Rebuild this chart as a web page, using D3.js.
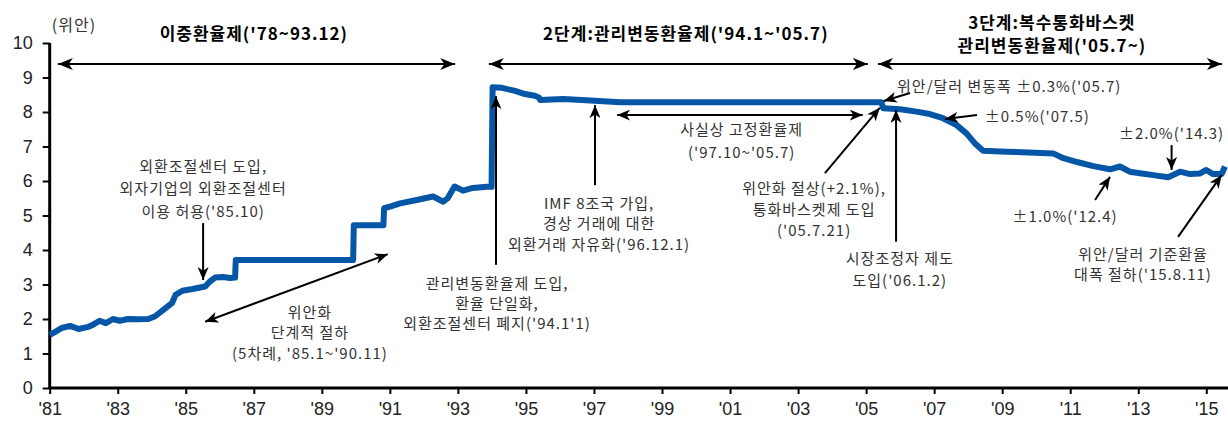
<!DOCTYPE html>
<html>
<head>
<meta charset="utf-8">
<script src="https://cdnjs.cloudflare.com/ajax/libs/d3/7.8.5/d3.min.js"></script>
<style>
  body { margin: 0; background: #fff; }
  svg { display: block; }
  .tick text { font-family: "Liberation Sans Narrow", "Arial Narrow", "Liberation Sans", Arial, sans-serif; font-size: 18px; fill: #222; }
  .note { font-family: "Noto Sans CJK KR", "Noto Sans", sans-serif; font-size: 15px; letter-spacing: 1px; fill: #333; }
  .head { font-family: "Noto Sans CJK KR", "Noto Sans", sans-serif; font-size: 17px; letter-spacing: 1px; font-weight: bold; fill: #000; }
</style>
</head>
<body>
<svg id="chart" width="1228" height="421"></svg>
<script>

// 위안/달러 환율 (연도, 위안)
var years = [
  1981.00, 1981.15, 1981.35, 1981.60, 1981.85, 1982.13, 1982.30, 1982.47, 1982.65, 1982.86,
  1983.06, 1983.30, 1983.60, 1983.90, 1984.10, 1984.33, 1984.60, 1984.70, 1984.90, 1985.20,
  1985.57, 1985.70, 1985.86, 1986.10, 1986.30, 1986.45, 1986.47, 1988.00, 1989.92, 1989.94,
  1990.81, 1990.83, 1991.05, 1991.30, 1991.79, 1992.27, 1992.57, 1992.70, 1992.90, 1993.15,
  1993.44, 1993.85, 1993.99, 1994.02, 1994.30, 1994.68, 1994.97, 1995.26, 1995.38, 1995.42,
  1996.10, 1996.90, 1997.77, 2000.00, 2003.00, 2005.45, 2005.50, 2006.00, 2006.48, 2006.87,
  2007.26, 2007.66, 2007.95, 2008.20, 2008.44, 2009.13, 2010.50, 2010.80, 2011.20, 2011.68,
  2012.17, 2012.46, 2012.75, 2013.10, 2013.44, 2013.88, 2014.23, 2014.52, 2014.82, 2015.00,
  2015.20, 2015.45, 2015.55
];
var rates = [
  1.54, 1.62, 1.74, 1.80, 1.71, 1.77, 1.85, 1.95, 1.88, 2.00,
  1.95, 2.00, 1.99, 2.00, 2.08, 2.26, 2.47, 2.70, 2.82, 2.87,
  2.94, 3.08, 3.20, 3.22, 3.19, 3.20, 3.71, 3.71, 3.71, 4.72,
  4.72, 5.21, 5.27, 5.35, 5.45, 5.55, 5.40, 5.50, 5.84, 5.72,
  5.80, 5.83, 5.83, 8.72, 8.70, 8.61, 8.52, 8.47, 8.42, 8.35,
  8.38, 8.33, 8.28, 8.28, 8.28, 8.28, 8.11, 8.08, 8.01, 7.94,
  7.82, 7.62, 7.38, 7.09, 6.88, 6.85, 6.80, 6.66, 6.55, 6.43,
  6.34, 6.42, 6.27, 6.22, 6.17, 6.11, 6.27, 6.20, 6.22, 6.32,
  6.20, 6.20, 6.42
];

var yTicks = d3.range(0, 11);
var xTicks = d3.range(1981, 2016, 2);
var unitLabel = "(위안)";

// 제도 구간 제목 (위치는 연도, 위안 단위)
var headers = [
  { lines: ["이중환율제('78~93.12)"], x: 1987.0, y: 10.29 },
  { lines: ["2단계:관리변동환율제('94.1~'05.7)"], x: 1999.7, y: 10.29 },
  { lines: ["3단계:복수통화바스켓", "관리변동환율제('05.7~)"], x: 2010.46, y: 10.61 }
];

var notes = [
  { lines: ["외환조절센터 도입,", "외자기업의 외환조절센터", "이용 허용('85.10)"], x: 1985.51, y: 6.46, gap: 22.5 },
  { lines: ["위안화", "단계적 절하", "(5차례, '85.1~'90.11)"], x: 1988.65, y: 2.23, gap: 20.5 },
  { lines: ["관리변동환율제 도입,", "환율 단일화,", "외환조절센터 폐지('94.1'1)"], x: 1994.15, y: 3.07, gap: 20 },
  { lines: ["IMF 8조국 가입,", "경상 거래에 대한", "외환거래 자유화('96.12.1)"], x: 1997.15, y: 5.39, gap: 20.5 },
  { lines: ["사실상 고정환율제", "('97.10~'05.7)"], x: 2001.34, y: 7.53, gap: 23 },
  { lines: ["위안/달러 변동폭 ±0.3%('05.7)"], x: 2005.91, y: 8.78, anchor: "start" },
  { lines: ["±0.5%('07.5)"], x: 2008.49, y: 7.91, anchor: "start" },
  { lines: ["±2.0%('14.3)"], x: 2013.98, y: 7.40 },
  { lines: ["±1.0%('12.4)"], x: 2010.85, y: 5.01 },
  { lines: ["위안화 절상(+2.1%),", "통화바스켓제 도입", "('05.7.21)"], x: 2003.47, y: 5.80, gap: 21 },
  { lines: ["시장조정자 제도", "도입('06.1.2)"], x: 2005.99, y: 3.77, gap: 22 },
  { lines: ["위안/달러 기준환율", "대폭 절하('15.8.11)"], x: 2013.14, y: 3.91, gap: 20 }
];

var arrows = [
  { from: [1981.24, 9.39], to: [1992.92, 9.39], both: true, big: true },
  { from: [1993.91, 9.39], to: [2005.05, 9.39], both: true, big: true },
  { from: [2005.35, 9.39], to: [2015.46, 9.39], both: true, big: true },
  { from: [1985.51, 4.78], to: [1985.51, 3.13] },
  { from: [1985.57, 1.92], to: [1990.94, 3.88], both: true },
  { from: [1994.12, 3.57], to: [1994.12, 8.46] },
  { from: [1997.03, 5.88], to: [1997.03, 8.20] },
  { from: [1997.68, 7.91], to: [2004.90, 7.91], both: true },
  { from: [2006.29, 8.55], to: [2005.52, 8.32] },
  { from: [2008.26, 7.91], to: [2007.32, 7.80] },
  { from: [2013.98, 7.04], to: [2013.98, 6.32] },
  { from: [2011.73, 5.45], to: [2012.17, 6.12] },
  { from: [2003.79, 6.23], to: [2005.40, 8.12] },
  { from: [2005.88, 4.24], to: [2005.88, 8.06] },
  { from: [2014.17, 4.38], to: [2015.45, 6.17] }
];

var svg = d3.select("#chart");

var x = d3.scaleLinear().domain([1981, 2015.55]).range([49.7, 1225]);
var y = d3.scaleLinear().domain([0, 10]).range([388, 43]);

// arrow heads
var defs = svg.append("defs");
function head(id, len, half) {
  defs.append("marker")
    .attr("id", id)
    .attr("viewBox", (-len) + " " + (-half) + " " + len + " " + (half * 2))
    .attr("refX", 0).attr("refY", 0)
    .attr("markerUnits", "userSpaceOnUse")
    .attr("markerWidth", len).attr("markerHeight", half * 2)
    .attr("orient", "auto-start-reverse")
    .append("path")
    .attr("d", "M0,0 L" + (-len) + "," + (-half) + " L" + (-len * 0.72) + ",0 L" + (-len) + "," + half + " Z")
    .attr("fill", "#000");
}
head("arrow", 13, 5.5);
head("bigArrow", 15, 6);

// axes
var yAxis = d3.axisLeft(y).tickValues(yTicks).tickSize(7).tickPadding(10).tickFormat(d3.format("d"));
var xAxis = d3.axisBottom(x).tickValues(xTicks).tickSize(6).tickPadding(6)
  .tickFormat(function(d){ return "'" + String(d).slice(2); });

var gy = svg.append("g").attr("transform", "translate(49.7,0)").call(yAxis);
var gx = svg.append("g").attr("transform", "translate(0,388)").call(xAxis);
[gy, gx].forEach(function(g){
  g.select(".domain").attr("stroke", "#000").attr("stroke-width", 3);
  g.selectAll(".tick line").attr("stroke", "#000").attr("stroke-width", 2);
});
gy.select(".domain").attr("d", "M0,43V388");
gx.select(".domain").attr("d", "M49.7,0H1228");
gx.selectAll(".tick text").attr("dy", "0.85em");

svg.append("text")
  .attr("class", "note")
  .attr("x", 74).attr("y", 24)
  .attr("text-anchor", "middle").attr("dominant-baseline", "central")
  .style("font-size", "16px")
  .text(unitLabel);

// 환율 라인
var line = d3.line()
  .x(function(d, i){ return x(years[i]); })
  .y(function(d){ return y(d); });

svg.append("path")
  .datum(rates)
  .attr("d", line)
  .attr("fill", "none")
  .attr("stroke", "#0656a8")
  .attr("stroke-width", 6)
  .attr("stroke-linejoin", "round");

// arrows
svg.selectAll(".arr")
  .data(arrows)
  .enter().append("line")
  .attr("class", "arr")
  .attr("x1", function(d){ return x(d.from[0]); })
  .attr("y1", function(d){ return y(d.from[1]); })
  .attr("x2", function(d){ return x(d.to[0]); })
  .attr("y2", function(d){ return y(d.to[1]); })
  .attr("stroke", "#000")
  .attr("stroke-width", 2)
  .attr("marker-end", function(d){ return d.big ? "url(#bigArrow)" : "url(#arrow)"; })
  .attr("marker-start", function(d){ return d.both ? (d.big ? "url(#bigArrow)" : "url(#arrow)") : null; });

function writeLines(list, cls, defaultGap) {
  list.forEach(function(n){
    var gap = n.gap || defaultGap;
    var t = svg.append("text")
      .attr("class", cls)
      .attr("text-anchor", n.anchor || "middle");
    n.lines.forEach(function(s, i){
      t.append("tspan")
        .attr("x", x(n.x))
        .attr("y", y(n.y) + i * gap)
        .attr("dominant-baseline", "central")
        .text(s);
    });
  });
}

writeLines(headers, "head", 23);
writeLines(notes, "note", 21);

</script>
</body>
</html>
